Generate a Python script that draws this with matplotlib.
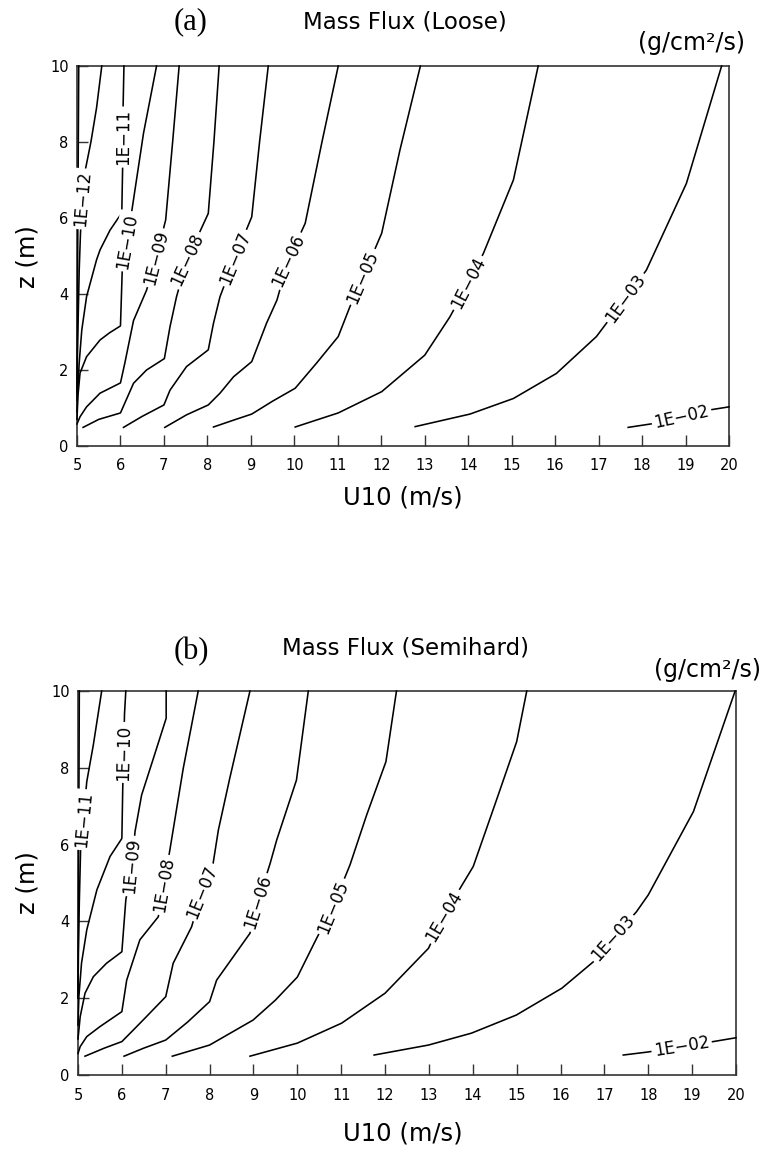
import numpy as np
import matplotlib.pyplot as plt

# ---- data: contour lines (U10 in m/s, z in m) ----
u_ticks = list(range(5, 21))
z_ticks = [0, 2, 4, 6, 8, 10]

# (a) Loose
loose_13_u = [5.04, 5.03, 5.02, 5.01, 5.0]
loose_13_z = [10.0, 8.0, 6.0, 3.5, 1.2]
loose_12_u = [5.57, 5.45, 5.32, 5.18, 5.12, 5.08, 5.05, 5.03, 5.01, 5.0]
loose_12_z = [10.0, 8.9, 8.0, 7.2, 6.4, 5.6, 4.6, 3.5, 2.4, 1.4]
loose_11_u = [6.08, 6.06, 6.05, 6.03, 5.95, 5.76, 5.53, 5.45, 5.22, 5.11, 5.05, 5.02, 5.0]
loose_11_z = [10.0, 8.9, 7.35, 6.12, 6.0, 5.68, 5.16, 4.9, 3.93, 3.05, 2.18, 1.5, 0.9]
loose_10_u = [6.83, 6.53, 6.26, 6.14, 6.04, 6.0, 5.75, 5.53, 5.22, 5.07, 5.02, 5.0]
loose_10_z = [10.0, 8.23, 6.18, 5.39, 4.6, 3.16, 2.98, 2.79, 2.35, 1.92, 1.3, 0.7]
loose_09_u = [7.35, 7.2, 7.04, 6.82, 6.6, 6.3, 6.1, 6.0, 5.53, 5.22, 5.07, 5.0]
loose_09_z = [10.0, 8.0, 5.95, 4.95, 4.1, 3.3, 2.18, 1.66, 1.39, 1.03, 0.77, 0.58]
loose_08_u = [8.27, 8.15, 8.02, 7.53, 7.29, 7.14, 7.01, 6.6, 6.3, 6.1, 6.0, 5.5, 5.14]
loose_08_z = [10.0, 8.0, 6.12, 4.9, 3.93, 3.14, 2.3, 2.0, 1.65, 1.13, 0.87, 0.7, 0.49]
loose_07_u = [9.4, 9.2, 9.02, 8.63, 8.29, 8.14, 8.02, 7.52, 7.14, 7.0, 6.5, 6.07]
loose_07_z = [10.0, 8.0, 6.03, 4.95, 3.93, 3.23, 2.53, 2.09, 1.47, 1.08, 0.78, 0.49]
loose_06_u = [11.01, 10.63, 10.25, 9.86, 9.6, 9.36, 9.02, 8.6, 8.29, 8.02, 7.52, 7.02]
loose_06_z = [10.0, 7.97, 5.86, 4.89, 3.84, 3.23, 2.22, 1.82, 1.39, 1.08, 0.82, 0.49]
loose_05_u = [12.9, 12.43, 12.01, 11.58, 11.28, 11.01, 10.51, 10.02, 9.5, 9.02, 8.6, 8.14]
loose_05_z = [10.0, 7.79, 5.6, 4.45, 3.67, 2.88, 2.18, 1.52, 1.18, 0.84, 0.68, 0.5]
loose_04_u = [15.61, 15.04, 14.35, 14.0, 13.58, 13.0, 12.01, 11.01, 10.5, 10.02]
loose_04_z = [10.0, 7.0, 5.07, 4.29, 3.4, 2.39, 1.43, 0.87, 0.68, 0.5]
loose_03_u = [19.83, 19.02, 18.1, 17.63, 17.18, 16.95, 16.03, 15.04, 14.04, 12.78]
loose_03_z = [10.0, 6.91, 4.63, 3.89, 3.23, 2.88, 1.91, 1.25, 0.84, 0.51]
loose_02_u = [17.68, 18.2, 18.91, 19.56, 20.0]
loose_02_z = [0.49, 0.58, 0.76, 0.95, 1.03]

# (b) Semihard
semi_12_u = [5.03, 5.02, 5.01, 5.0]
semi_12_z = [10.0, 7.0, 4.5, 2.0]
semi_11_u = [5.54, 5.35, 5.2, 5.12, 5.06, 5.03, 5.01, 5.0]
semi_11_z = [10.0, 8.6, 7.64, 6.65, 5.9, 4.5, 3.2, 2.0]
semi_10_u = [6.09, 6.06, 6.04, 6.02, 6.0, 5.73, 5.43, 5.2, 5.08, 5.02, 5.0]
semi_10_z = [10.0, 9.4, 8.4, 7.47, 6.16, 5.69, 4.82, 3.78, 2.91, 2.04, 1.3]
semi_09_u = [7.01, 7.01, 6.72, 6.45, 6.3, 6.23, 6.09, 6.0, 5.65, 5.35, 5.16, 5.05, 5.0]
semi_09_z = [10.0, 9.29, 8.25, 7.29, 6.34, 5.44, 4.56, 3.21, 2.91, 2.56, 2.13, 1.52, 0.94]
semi_08_u = [7.74, 7.4, 7.1, 6.96, 6.83, 6.41, 6.11, 6.0, 5.5, 5.2, 5.05, 5.0]
semi_08_z = [10.0, 7.99, 5.9, 4.95, 4.12, 3.52, 2.47, 1.65, 1.26, 1.0, 0.74, 0.56]
semi_07_u = [8.92, 8.46, 8.2, 8.08, 7.82, 7.59, 7.17, 7.0, 6.56, 6.26, 6.0, 5.6, 5.16]
semi_07_z = [10.0, 7.73, 6.38, 5.51, 4.77, 3.86, 2.91, 2.04, 1.52, 1.17, 0.87, 0.7, 0.49]
semi_06_u = [10.25, 9.98, 9.53, 9.38, 9.1, 8.92, 8.54, 8.16, 8.0, 7.5, 7.0, 6.5, 6.05]
semi_06_z = [10.0, 7.68, 6.12, 5.51, 4.5, 3.69, 3.08, 2.47, 1.91, 1.38, 0.91, 0.7, 0.49]
semi_05_u = [12.26, 12.02, 11.58, 11.2, 10.81, 10.44, 10.0, 9.5, 8.99, 8.0, 7.15]
semi_05_z = [10.0, 8.16, 6.77, 5.47, 4.38, 3.56, 2.55, 1.95, 1.43, 0.78, 0.49]
semi_04_u = [15.23, 15.0, 14.5, 14.01, 13.71, 13.34, 12.99, 12.0, 11.01, 10.0, 8.92]
semi_04_z = [10.0, 8.68, 7.03, 5.43, 4.86, 4.14, 3.3, 2.13, 1.35, 0.83, 0.49]
semi_03_u = [19.98, 19.03, 18.0, 17.73, 17.2, 16.75, 16.03, 14.99, 13.97, 12.99, 11.75]
semi_03_z = [10.0, 6.86, 4.69, 4.25, 3.57, 2.95, 2.26, 1.56, 1.09, 0.78, 0.52]
semi_02_u = [17.43, 18.0, 18.76, 19.48, 20.0]
semi_02_z = [0.52, 0.6, 0.74, 0.87, 0.97]

# contour label text and where it sits on each line
loose_lines = [
    (loose_13_u, loose_13_z, None, None),
    (loose_12_u, loose_12_z, '1E\u221212', (5.15, 6.5)),
    (loose_11_u, loose_11_z, '1E\u221211', (6.06, 8.13)),
    (loose_10_u, loose_10_z, '1E\u221210', (6.14, 5.39)),
    (loose_09_u, loose_09_z, '1E\u221209', (6.82, 4.95)),
    (loose_08_u, loose_08_z, '1E\u221208', (7.53, 4.9)),
    (loose_07_u, loose_07_z, '1E\u221207', (8.63, 4.95)),
    (loose_06_u, loose_06_z, '1E\u221206', (9.86, 4.89)),
    (loose_05_u, loose_05_z, '1E\u221205', (11.58, 4.45)),
    (loose_04_u, loose_04_z, '1E\u221204', (14.0, 4.29)),
    (loose_03_u, loose_03_z, '1E\u221203', (17.63, 3.89)),
    (loose_02_u, loose_02_z, '1E\u221202', (18.91, 0.76)),
]
semi_lines = [
    (semi_12_u, semi_12_z, None, None),
    (semi_11_u, semi_11_z, '1E\u221211', (5.12, 6.65)),
    (semi_10_u, semi_10_z, '1E\u221210', (6.04, 8.4)),
    (semi_09_u, semi_09_z, '1E\u221209', (6.23, 5.44)),
    (semi_08_u, semi_08_z, '1E\u221208', (6.96, 4.95)),
    (semi_07_u, semi_07_z, '1E\u221207', (7.82, 4.77)),
    (semi_06_u, semi_06_z, '1E\u221206', (9.1, 4.5)),
    (semi_05_u, semi_05_z, '1E\u221205', (10.81, 4.38)),
    (semi_04_u, semi_04_z, '1E\u221204', (13.34, 4.14)),
    (semi_03_u, semi_03_z, '1E\u221203', (17.2, 3.57)),
    (semi_02_u, semi_02_z, '1E\u221202', (18.76, 0.74)),
]

plt.rcParams['font.family'] = ['DejaVu Sans']
W, H = 763, 1149
fig = plt.figure(figsize=(W / 100, H / 100), dpi=100)


def px(x0, y0, x1, y1):
    # pixel box -> figure fraction rect
    return [x0 / W, 1 - y1 / H, (x1 - x0) / W, (y1 - y0) / H]


def put_label(ax, us, zs, text, at):
    pts = ax.transData.transform(np.column_stack([us, zs]))
    p = ax.transData.transform(at)
    best = None
    for i in range(len(pts) - 1):
        a, b = pts[i], pts[i + 1]
        d = b - a
        t = np.clip(np.dot(p - a, d) / np.dot(d, d), 0, 1)
        q = a + t * d
        dist = np.hypot(*(p - q))
        if best is None or dist < best[0]:
            best = (dist, q, d)
    _, q, d = best
    ang = np.degrees(np.arctan2(d[1], d[0]))
    if ang > 90:
        ang -= 180
    if ang <= -90:
        ang += 180
    x, y = ax.transData.inverted().transform(q)
    ax.text(x, y, text, rotation=ang, rotation_mode='anchor', ha='center', va='center',
            fontsize=12, zorder=4,
            bbox=dict(boxstyle='square,pad=0.15', fc='white', ec='none'))


def panel(rect, lines, tag, title, title_y, tag_y, unit_y, xlab_y, unit_x):
    ax = fig.add_axes(rect)
    ax.set_xlim(5, 20)
    ax.set_ylim(0, 10)
    ax.set_xticks(u_ticks)
    ax.set_yticks(z_ticks)
    ax.tick_params(direction='in', length=8, width=1, labelsize=10.5, color='#333333')
    ax.tick_params(axis='x', pad=9)
    ax.tick_params(axis='y', pad=6)
    for s in ax.spines.values():
        s.set_color('#333333')
        s.set_linewidth(1.2)
    for us, zs, txt, at in lines:
        ax.plot(us, zs, color='black', lw=1.15, zorder=3, clip_on=False)
    for us, zs, txt, at in lines:
        if txt:
            put_label(ax, us, zs, txt, at)
    fig.text(191 / W, 1 - tag_y / H, tag, family='Liberation Serif', fontsize=22,
             ha='center', va='center')
    fig.text(405 / W, 1 - title_y / H, title, fontsize=16.5, ha='center', va='center')
    fig.text(unit_x / W, 1 - unit_y / H, '(g/cm\u00b2/s)', fontsize=17, ha='right', va='center')
    fig.text(403 / W, 1 - xlab_y / H, 'U10 (m/s)', fontsize=17.5, ha='center', va='center')
    return ax


ax1 = panel(px(77, 66, 729, 446), loose_lines, '(a)', 'Mass Flux (Loose)', 22, 22, 43, 497, 745)
fig.text(28 / W, 1 - 257 / H, 'z (m)', fontsize=17.5, rotation=90, ha='center', va='center')

ax2 = panel(px(78, 691, 736, 1075), semi_lines, '(b)', 'Mass Flux (Semihard)', 648, 652, 670, 1133, 761)
fig.text(28 / W, 1 - 883 / H, 'z (m)', fontsize=17.5, rotation=90, ha='center', va='center')

fig.savefig('out.png', dpi=100)
